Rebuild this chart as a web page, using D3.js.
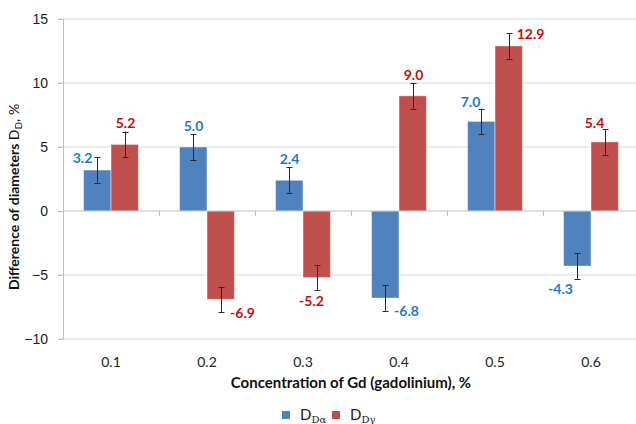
<!DOCTYPE html>
<html>
<head>
<meta charset="utf-8">
<script src="https://cdn.jsdelivr.net/npm/d3@7"></script>
<style>
  body { margin: 0; background: #fff; }
  svg { display: block; font-family: Lato, "Open Sans", sans-serif; }
  .tick-label { font-size: 14px; fill: #222; }
  .axis-title { font-size: 15px; font-weight: bold; fill: #111; }
  .value-label { font-size: 14px; font-weight: bold; }
</style>
</head>
<body>
<svg width="636" height="424"></svg>
<script>
// Data
let categories = ['0.1', '0.2', '0.3', '0.4', '0.5', '0.6'];
let seriesKeys = ['alpha', 'gamma'];
let alphaValues = [3.2, 5.0, 2.4, -6.8, 7.0, -4.3];
let gammaValues = [5.2, -6.9, -5.2, 9.0, 12.9, 5.4];
let alphaErrors = [1.0, 1.0, 1.0, 1.0, 1.0, 1.0];
let gammaErrors = [1.0, 1.0, 1.0, 1.0, 1.0, 1.0];
let yTicks = [-10, -5, 0, 5, 10, 15];

// where each value label sits next to its error bar
let alphaLabelPos = ['left', 'above', 'above', 'right', 'aboveLeft', 'belowLeft'];
let gammaLabelPos = ['above', 'right', 'below', 'above', 'right', 'aboveLeft'];

let colors = { alpha: '#4F81BD', gamma: '#C0504D' };
let labelColors = { alpha: '#1C7AD2', gamma: '#CC0A0A' };

let labelOffsets = {
  above: [0, -9],
  aboveLeft: [-11, -7],
  left: [-15, 0],
  right: [21, 0],
  below: [-6, 10],
  belowLeft: [-17, 10]
};

let margin = { left: 63, right: -3, top: 19, bottom: 85 };
let width = 636, height = 424;

let svg = d3.select('svg');

let x = d3.scaleBand()
  .domain(categories)
  .range([margin.left, width - margin.right])
  .paddingInner(0)
  .paddingOuter(0);

let xSub = d3.scaleBand()
  .domain(seriesKeys)
  .range([0, x.bandwidth()])
  .paddingInner(0)
  .paddingOuter(0.75);

let y = d3.scaleLinear()
  .domain([-10, 15])
  .range([height - margin.bottom, margin.top]);

// Gridlines
svg.append('g')
  .selectAll('line')
  .data(yTicks.filter(t => t !== 0))
  .enter()
  .append('line')
  .attr('x1', margin.left - 5)
  .attr('x2', width)
  .attr('y1', d => y(d))
  .attr('y2', d => y(d))
  .attr('stroke', '#d9d9d9')
  .attr('stroke-width', 1);

// Y axis
let yAxis = svg.append('g')
  .attr('transform', `translate(${margin.left},0)`)
  .call(d3.axisLeft(y).tickValues(yTicks).tickSize(5).tickPadding(10));
yAxis.select('.domain').attr('stroke', '#bfbfbf');
yAxis.selectAll('.tick line').attr('stroke', '#bfbfbf');
yAxis.selectAll('.tick text')
  .attr('class', 'tick-label')
  .attr('font-size', null)
  .attr('font-family', null);

// Bars
let rows = categories.map((c, i) => ({
  cat: c,
  items: [
    { key: 'alpha', value: alphaValues[i], err: alphaErrors[i], pos: alphaLabelPos[i] },
    { key: 'gamma', value: gammaValues[i], err: gammaErrors[i], pos: gammaLabelPos[i] }
  ]
}));

let groups = svg.append('g')
  .selectAll('g')
  .data(rows)
  .enter()
  .append('g')
  .attr('transform', d => `translate(${x(d.cat)},0)`);

groups.selectAll('rect')
  .data(d => d.items)
  .enter()
  .append('rect')
  .attr('x', d => xSub(d.key))
  .attr('width', xSub.bandwidth())
  .attr('y', d => y(Math.max(0, d.value)))
  .attr('height', d => Math.abs(y(d.value) - y(0)))
  .attr('fill', d => colors[d.key])
  .attr('stroke', 'rgba(255,255,255,0.45)')
  .attr('stroke-width', 1);

// Zero line and category ticks
svg.append('line')
  .attr('x1', margin.left)
  .attr('x2', width)
  .attr('y1', y(0))
  .attr('y2', y(0))
  .attr('stroke', '#bfbfbf');

svg.append('g')
  .selectAll('line')
  .data(categories.slice(1))
  .enter()
  .append('line')
  .attr('x1', d => x(d) + 0.5)
  .attr('x2', d => x(d) + 0.5)
  .attr('y1', y(0))
  .attr('y2', y(0) + 5)
  .attr('stroke', '#bfbfbf');

// Error bars
let err = groups.selectAll('g.err')
  .data(d => d.items)
  .enter()
  .append('g')
  .attr('class', 'err')
  .attr('stroke', '#2b2b2b')
  .attr('stroke-width', 1);

let cx = d => Math.round(xSub(d.key) + xSub.bandwidth() / 2) + 0.5;

err.append('line')
  .attr('x1', cx).attr('x2', cx)
  .attr('y1', d => y(d.value + d.err))
  .attr('y2', d => y(d.value - d.err));

[1, -1].forEach(s => {
  err.append('line')
    .attr('x1', d => cx(d) - 3).attr('x2', d => cx(d) + 3)
    .attr('y1', d => Math.round(y(d.value + s * d.err)) + 0.5)
    .attr('y2', d => Math.round(y(d.value + s * d.err)) + 0.5);
});

// Value labels
groups.selectAll('text.value-label')
  .data(d => d.items)
  .enter()
  .append('text')
  .attr('class', 'value-label')
  .attr('fill', d => labelColors[d.key])
  .attr('text-anchor', 'middle')
  .attr('dominant-baseline', 'central')
  .attr('x', d => cx(d) + labelOffsets[d.pos][0])
  .attr('y', d => {
    let end = d.value >= 0 ? y(d.value + d.err) : y(d.value - d.err);
    return end + labelOffsets[d.pos][1];
  })
  .text(d => d.value.toFixed(1));

// X tick labels
svg.append('g')
  .selectAll('text')
  .data(categories)
  .enter()
  .append('text')
  .attr('class', 'tick-label')
  .attr('text-anchor', 'middle')
  .attr('x', d => x(d) + x.bandwidth() / 2)
  .attr('y', 367)
  .text(d => d);

// Axis titles
svg.append('text')
  .attr('class', 'axis-title')
  .attr('text-anchor', 'middle')
  .attr('x', (margin.left + width - margin.right) / 2)
  .attr('y', 388)
  .text('Concentration of Gd (gadolinium), %');

let yTitle = svg.append('text')
  .attr('class', 'axis-title')
  .attr('font-size', 14)
  .style('font-size', '14px')
  .attr('text-anchor', 'middle')
  .attr('transform', 'translate(19,197) rotate(-90)');
yTitle.append('tspan').text('Difference of diameters  ');
yTitle.append('tspan').attr('font-weight', 'normal').text('D');
yTitle.append('tspan').attr('font-weight', 'normal').attr('font-size', 10).attr('dy', 3).text('D');
yTitle.append('tspan').attr('font-weight', 'normal').attr('dy', -3).text(', %');

// Legend
let legendItems = [
  { key: 'alpha', sub: 'Dα', x: 282 },
  { key: 'gamma', sub: 'Dγ', x: 332 }
];

let legend = svg.append('g')
  .selectAll('g')
  .data(legendItems)
  .enter()
  .append('g')
  .attr('transform', d => `translate(${d.x},411)`);

legend.append('rect')
  .attr('width', 8)
  .attr('height', 8)
  .attr('fill', d => colors[d.key]);

let legText = legend.append('text')
  .attr('x', 18)
  .attr('y', 9)
  .attr('font-size', 15)
  .attr('fill', '#222');
legText.append('tspan').text('D');
legText.append('tspan')
  .attr('font-size', 10)
  .attr('font-family', '"DejaVu Serif", serif')
  .attr('dy', 3)
  .text(d => d.sub);
</script>
</body>
</html>
